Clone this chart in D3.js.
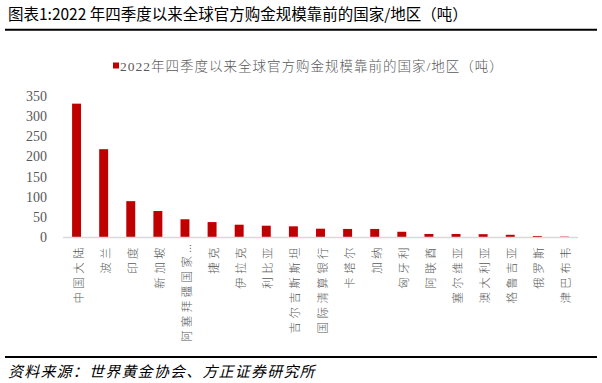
<!DOCTYPE html>
<html>
<head>
<meta charset="utf-8">
<script src="https://cdn.jsdelivr.net/npm/d3@7"></script>
<style>
  html, body { margin: 0; padding: 0; background: #fff; }
  svg { display: block; }
</style>
</head>
<body>
<svg id="chart" width="602" height="383"></svg>
<script>
const titleText = "图表1:2022 年四季度以来全球官方购金规模靠前的国家/地区（吨）";
const legendText = "2022年四季度以来全球官方购金规模靠前的国家/地区（吨）";
const sourceText = "资料来源：世界黄金协会、方正证券研究所";
const categories = ["中国大陆","波兰","印度","新加坡","阿塞拜疆国家...","捷克","伊拉克","利比亚","吉尔吉斯斯坦","国际清算银行","卡塔尔","加纳","匈牙利","阿联酋","塞尔维亚","澳大利亚","格鲁吉亚","俄罗斯","津巴布韦"];
const values = [331, 218, 89, 64.5, 44, 37, 30.5, 28, 26.5, 20.6, 20, 20, 13, 7.5, 7.5, 7, 5.5, 2.5, 1];
const yTicks = [0, 50, 100, 150, 200, 250, 300, 350];

const svg = d3.select("#chart");
const cjk = "'Noto Sans CJK SC', 'Noto Sans', sans-serif";
const serif = "'Liberation Serif', 'Noto Sans CJK SC', serif";
const red = "#C00000";
const grey = "#595959";

// Title
svg.append("text").attr("x", 8).attr("y", 20)
  .attr("font-family", cjk).attr("font-size", 15.5).attr("fill", "#000")
  .text(titleText);
svg.append("line").attr("x1", 5).attr("x2", 597).attr("y1", 29.8).attr("y2", 29.8)
  .attr("stroke", "#000").attr("stroke-width", 2);

// Footer
svg.append("line").attr("x1", 5).attr("x2", 597).attr("y1", 357).attr("y2", 357)
  .attr("stroke", "#000").attr("stroke-width", 2);
svg.append("text").attr("x", 8).attr("y", 377)
  .attr("font-family", cjk).attr("font-size", 15).attr("font-style", "italic")
  .attr("letter-spacing", 1.2).attr("fill", "#000")
  .text(sourceText);

// Legend
svg.append("rect").attr("x", 113).attr("y", 62.5).attr("width", 6).attr("height", 6).attr("fill", red);
svg.append("text").attr("x", 120).attr("y", 66).attr("dominant-baseline", "central")
  .attr("font-family", serif).attr("font-size", 13.5).attr("letter-spacing", 1)
  .attr("font-weight", 300).attr("fill", grey)
  .text(legendText);

// Scales
const x = d3.scaleBand().domain(categories).range([63, 578]).paddingInner(0.67).paddingOuter(0.335);
const y = d3.scaleLinear().domain([0, 350]).range([237, 96]);

// Y axis labels
const yAxis = d3.axisLeft(y).tickValues(yTicks).tickSize(0).tickPadding(0);
const yg = svg.append("g").attr("transform", "translate(47,0)").call(yAxis);
yg.select(".domain").remove();
yg.selectAll("text").attr("font-family", serif).attr("font-size", 14).attr("fill", grey);

// Bars
svg.append("g").selectAll("rect").data(categories).join("rect")
  .attr("x", d => x(d))
  .attr("width", x.bandwidth())
  .attr("y", (d, i) => y(values[i]))
  .attr("height", (d, i) => y(0) - y(values[i]))
  .attr("fill", red);

// X axis line
svg.append("line").attr("x1", 63).attr("x2", 578).attr("y1", 237.5).attr("y2", 237.5)
  .attr("stroke", "#D9D9D9").attr("stroke-width", 1.5);

// X labels (rotated)
const xl = svg.append("g").selectAll("text").data(categories).join("text")
  .attr("transform", d => `translate(${x(d) + x.bandwidth() / 2 + 1},244) rotate(-90)`)
  .attr("text-anchor", "end")
  .attr("dominant-baseline", "central")
  .attr("font-family", cjk).attr("font-size", 11.5).attr("font-weight", 300)
  .attr("fill", grey);
xl.each(function(d) {
  const t = d3.select(this);
  const m = d.match(/^(.*?)(\.\.\.)?$/);
  t.append("tspan").attr("letter-spacing", 3.4).text(m[1]);
  if (m[2]) t.append("tspan").attr("letter-spacing", 0).text(m[2]);
});
</script>
</body>
</html>
